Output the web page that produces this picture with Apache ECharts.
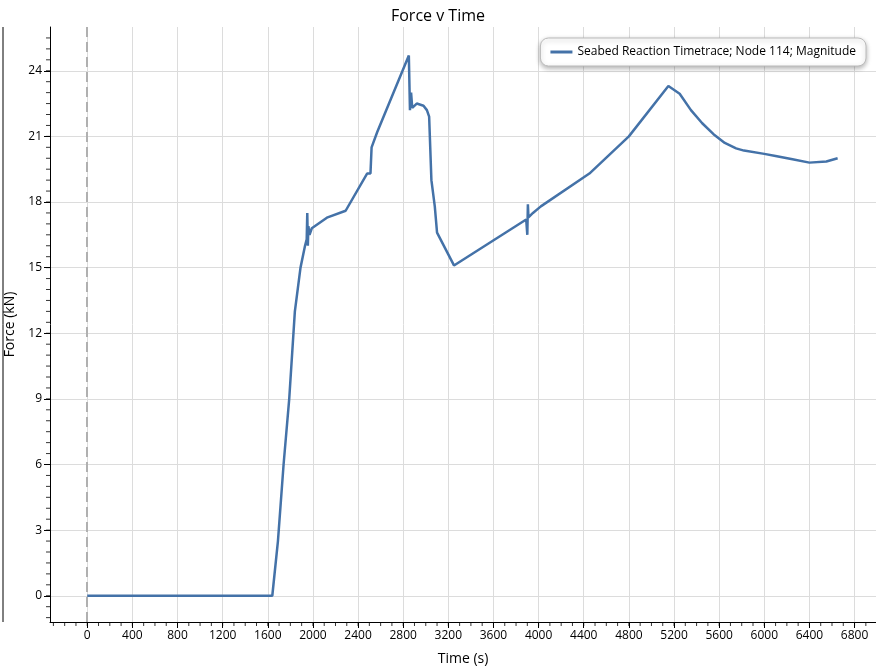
<!DOCTYPE html>
<html>
<head>
<meta charset="utf-8">
<script src="https://cdn.jsdelivr.net/npm/echarts@6/dist/echarts.min.js"></script>
<style>
  html, body { margin: 0; padding: 0; background: #fff; }
  #chart { width: 876px; height: 670px; }
</style>
</head>
<body>
<div id="chart"></div>
<script>
// time (s) and force (kN)
const timeValues = [0, 1640, 1690, 1740, 1790, 1840, 1890, 1930, 1945, 1950, 1955, 1960, 1970, 1990, 2130, 2290, 2480, 2510, 2520, 2570, 2850, 2860, 2870, 2880, 2920, 2980, 3010, 3030, 3050, 3080, 3100, 3250, 3890, 3900, 3905, 3910, 3950, 4020, 4450, 4800, 5150, 5250, 5350, 5450, 5550, 5650, 5750, 5820, 6000, 6100, 6250, 6400, 6550, 6650];
const forceValues = [0, 0, 2.5, 6, 9, 13, 15, 16, 16.3, 17.5, 16, 16.9, 16.5, 16.8, 17.3, 17.6, 19.3, 19.3, 20.5, 21.2, 24.7, 22.2, 23.0, 22.3, 22.5, 22.4, 22.2, 21.9, 19, 17.8, 16.6, 15.1, 17.2, 16.5, 17.9, 17.3, 17.5, 17.8, 19.3, 21, 23.3, 22.95, 22.2, 21.6, 21.1, 20.7, 20.45, 20.35, 20.2, 20.1, 19.95, 19.8, 19.85, 20.0];
const xTicks = [-400, 0, 400, 800, 1200, 1600, 2000, 2400, 2800, 3200, 3600, 4000, 4400, 4800, 5200, 5600, 6000, 6400, 6800];
const xMinorTicks = [];
for (let v = -300; v <= 6900; v += 100) xMinorTicks.push(v);
const yTicks = [0, 3, 6, 9, 12, 15, 18, 21, 24];
const yMinorTicks = [];
for (let v = -1; v <= 25.5; v += 0.5) yMinorTicks.push(v);

const chart = echarts.init(document.getElementById('chart'));
const font = 'Segoe UI, "Open Sans", sans-serif';
const points = timeValues.map((t, i) => [t, forceValues[i]]);

chart.setOption({
  animation: false,
  title: { text: 'Force v Time', left: 'center', top: 3, textStyle: { fontFamily: font, fontSize: 16, fontWeight: 'normal', color: '#000' } },
  legend: {
    right: 10, top: 38, padding: [8, 10], borderColor: '#bbb', borderWidth: 1, borderRadius: 8,
    backgroundColor: '#fff', shadowColor: 'rgba(0,0,0,0.3)', shadowBlur: 5, shadowOffsetY: 2,
    itemWidth: 22, itemHeight: 3, icon: 'rect',
    textStyle: { fontFamily: font, fontSize: 12, color: '#000' }
  },
  grid: { left: 50, right: 0, top: 27, bottom: 48, outerBoundsMode: 'none', containLabel: false },
  xAxis: {
    type: 'value', min: -330, max: 6990,
    name: 'Time (s)', nameLocation: 'middle', nameGap: 30,
    nameTextStyle: { fontFamily: font, fontSize: 14, color: '#000' },
    axisLine: { onZero: false, lineStyle: { color: '#000' } },
    axisTick: { customValues: xTicks, length: 6, lineStyle: { color: '#000' } },
    minorTick: { show: false },
    axisLabel: { customValues: xTicks, formatter: v => String(v), fontFamily: font, fontSize: 12, color: '#000' },
    splitLine: { show: true, lineStyle: { color: '#dcdcdc' } }
  },
  yAxis: {
    type: 'value', min: -1.2, max: 26,
    name: 'Force (kN)', nameLocation: 'middle', nameGap: 30,
    nameTextStyle: { fontFamily: font, fontSize: 14, color: '#000' },
    axisLine: { show: true, onZero: false, lineStyle: { color: '#000' } },
    axisTick: { customValues: yTicks, length: 6, lineStyle: { color: '#000' } },
    axisLabel: { customValues: yTicks, fontFamily: font, fontSize: 12, color: '#000' },
    splitLine: { show: true, lineStyle: { color: '#dcdcdc' } }
  },
  series: [
    {
      name: 'Seabed Reaction Timetrace; Node 114; Magnitude',
      type: 'line', data: points, showSymbol: false, symbol: 'none',
      lineStyle: { color: '#4472a8', width: 2.5 }, itemStyle: { color: '#4472a8' },
      markLine: {
        silent: true, symbol: 'none', label: { show: false },
        lineStyle: { color: '#b0b0b0', type: [10, 5], width: 2 },
        data: [{ xAxis: 0 }]
      }
    },
    // minor tick marks on both axes
    {
      type: 'scatter', data: xMinorTicks.map(v => [v, -1.2]), symbol: 'rect', symbolSize: [1, 4],
      symbolOffset: [0, 2], itemStyle: { color: '#000' }, silent: true, clip: false
    },
    {
      type: 'scatter', data: yMinorTicks.map(v => [-330, v]), symbol: 'rect', symbolSize: [4, 1],
      symbolOffset: [-2, 0], itemStyle: { color: '#000' }, silent: true, clip: false
    }
  ],
  graphic: [
    { type: 'line', shape: { x1: 3, y1: 27, x2: 3, y2: 622 }, style: { stroke: '#000', lineWidth: 1 } }
  ]
});
</script>
</body>
</html>
